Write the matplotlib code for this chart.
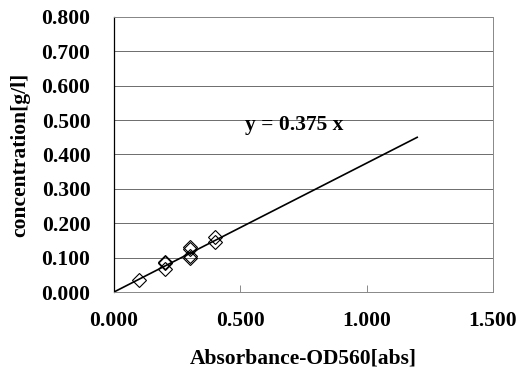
import matplotlib.pyplot as plt
import numpy as np

# absorbance vs concentration samples
absorbance = [0.1, 0.2, 0.2, 0.2, 0.3, 0.3, 0.3, 0.3, 0.4, 0.4]
concentration = [0.035, 0.088, 0.083, 0.068, 0.132, 0.124, 0.104, 0.098, 0.161, 0.145]
slope = 0.375
fit_x = [0.0, 1.2]
xticks = [0.0, 0.5, 1.0, 1.5]
yticks = [0.0, 0.1, 0.2, 0.3, 0.4, 0.5, 0.6, 0.7, 0.8]

plt.rcParams['font.family'] = ['Liberation Serif', 'DejaVu Serif']
plt.rcParams['font.weight'] = 'bold'
fs = 15.5

fig = plt.figure(figsize=(5.26, 3.76), dpi=100)
ax = fig.add_axes([114 / 526, 1 - 292 / 376, 379 / 526, 275 / 376])

ax.plot(absorbance, concentration, 'D', mfc='none', mec='black', ms=7, mew=0.8)
fx = np.array(fit_x)
ax.plot(fx, slope * fx, color='black', lw=1.2)
ax.text(0.52, 0.486, 'y = 0.375 x', fontsize=fs, fontweight='bold', va='center')

ax.set_xlim(0, 1.5)
ax.set_ylim(0, 0.8)
ax.set_xticks(xticks)
ax.set_yticks(yticks)
ax.set_xticklabels(['%.3f' % v for v in xticks], fontsize=fs, fontweight='bold')
ax.set_yticklabels(['%.3f' % v for v in yticks], fontsize=fs, fontweight='bold')
ax.tick_params(axis='x', direction='in', length=5, width=0.6, color='#777777', pad=14)
ax.tick_params(axis='y', length=0, pad=17)
ax.grid(axis='y', color='#555555', lw=0.6)
ax.set_axisbelow(True)

for s in ['top', 'right', 'bottom']:
    ax.spines[s].set_color('#888888')
    ax.spines[s].set_linestyle((0, (1, 1)))
    ax.spines[s].set_linewidth(0.7)
ax.spines['left'].set_color('black')
ax.spines['left'].set_linewidth(0.9)

ax.set_xlabel('Absorbance-OD560[abs]', fontsize=fs, fontweight='bold', labelpad=12)
ax.set_ylabel('concentration[g/l]', fontsize=fs, fontweight='bold', labelpad=8)

fig.savefig('out.png', dpi=100)
